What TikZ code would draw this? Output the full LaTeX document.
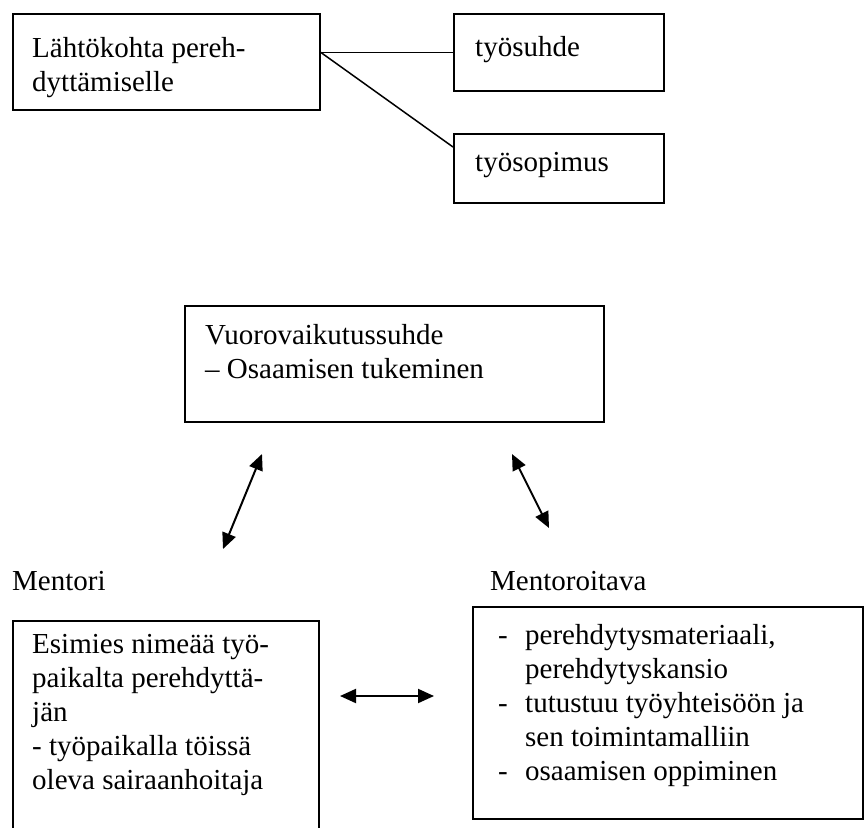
\documentclass[tikz,border=0pt]{standalone}
\usepackage{fontspec}
\setmainfont{Liberation Serif}
\usetikzlibrary{arrows.meta}
\newcommand{\dashitem}{\makebox[27pt][l]{-}}
\newcommand{\dashgap}{\hspace*{27pt}}
\begin{document}
\begin{tikzpicture}[x=1pt,y=-1pt,
  box/.style={draw, line width=1.8pt, rectangle, inner sep=0pt, anchor=north west},
  % base west of a multi-line text sits on its last line
  txt/.style={anchor=base west, inner sep=0pt, font=\fontsize{29}{34}\selectfont, align=left},
  link/.style={line width=1.8pt},
  dbl/.style={line width=2pt, {Triangle[length=16pt,width=14pt]}-{Triangle[length=16pt,width=14pt]}}]
\clip (0,0) rectangle (864,827);

% top row: starting point and its two branches
\node[box, minimum width=307, minimum height=96] (start) at (12,13) {};
\node[box, minimum width=210, minimum height=77] (suhde) at (453,13) {};
\node[box, minimum width=210, minimum height=69] (sopimus) at (453,133) {};
\node[txt] (startT) at (32,91.5) {Lähtökohta pereh-\\dyttämiselle};
\node[txt] (suhdeT) at (475,56) {työsuhde};
\node[txt] (sopimusT) at (475,171) {työsopimus};
\coordinate (fork) at (start.east |- suhde.west);
\coordinate (sopIn) at ([yshift=-14pt]sopimus.north west);
\draw[link] (fork) -- (suhde.west);
\draw[link, line width=1.5pt] (fork) -- (sopIn);

% interaction box
\node[box, minimum width=419, minimum height=116] (vuoro) at (184,305) {};
\node[txt] (vuoroT) at (205,378) {Vuorovaikutussuhde\\– Osaamisen tukeminen};

% arrows towards the two parties
\coordinate (aL1) at (262,454);
\coordinate (aL2) at (223,549);
\coordinate (aR1) at (512,454);
\coordinate (aR2) at (549,528);
\draw[dbl] (aL1) -- (aL2);
\draw[dbl] (aR1) -- (aR2);

% parties
\node[txt] (mentori) at (12,590) {Mentori};
\node[txt] (mentoroitava) at (490,590) {Mentoroitava};

\node[box, minimum width=306, minimum height=230] (left) at (12,620) {};
\node[txt] (leftT) at (32,789) {Esimies nimeää työ-\\paikalta perehdyttä-\\jän\\- työpaikalla töissä\\oleva sairaanhoitaja};

\node[box, minimum width=390, minimum height=212] (right) at (472,606) {};
\node[txt] (rightT) at (498,780) {\dashitem perehdytysmateriaali,\\\dashgap perehdytyskansio\\\dashitem tutustuu työyhteisöön ja\\\dashgap sen toimintamalliin\\\dashitem osaamisen oppiminen};

\coordinate (hL) at (340,696);
\coordinate (hR) at (434,696);
\draw[dbl] (hL) -- (hR);
\end{tikzpicture}
\end{document}
